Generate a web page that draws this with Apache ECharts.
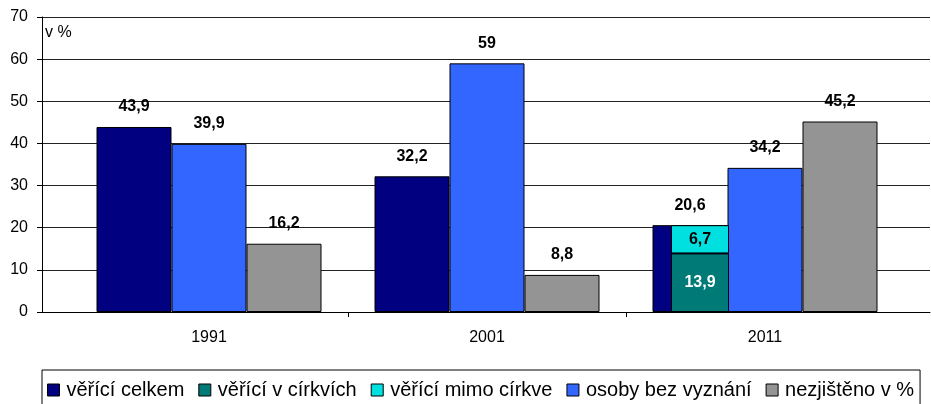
<!DOCTYPE html>
<html>
<head>
<meta charset="utf-8">
<script src="https://cdn.jsdelivr.net/npm/echarts@6/dist/echarts.min.js"></script>
<style>
  html, body { margin: 0; padding: 0; background: #fff; }
  #chart { width: 931px; height: 404px; }
</style>
</head>
<body>
<div id="chart"></div>
<script>
var categories = ['1991', '2001', '2011']
var vericiCelkem = [43.9, 32.2, 20.6]
var vericiVCirkvich = [null, null, 13.9]
var vericiMimoCirkve = [null, null, 6.7]
var bezVyznani = [39.9, 59, 34.2]
var nezjisteno = [16.2, 8.8, 45.2]
var yMin = 0
var yMax = 70
var yStep = 10
var tickPositions = [1, 2]

var font = 'Liberation Sans, Arial, sans-serif'

function fmt(p) {
  return String(p.value).replace('.', ',')
}

function topLabel() {
  return {
    show: true,
    position: 'top',
    distance: 12,
    formatter: fmt,
    color: '#000',
    fontFamily: font,
    fontWeight: 'bold',
    fontSize: 16
  }
}

var chart = echarts.init(document.getElementById('chart'))

chart.setOption({
  animation: false,
  grid: [
    // frame: y axis, grid lines, x axis line
    { left: 42, right: 1, top: 17, bottom: 92 },
    // main bars
    { left: 70, right: 27, top: 17, bottom: 92 },
    // stacked bar of 2011, shifted left
    { left: 5, right: 92, top: 17, bottom: 92 }
  ],
  legend: {
    left: 42,
    top: 370,
    width: 885,
    padding: [10, 6, 20, 5],
    itemGap: 14,
    itemWidth: 12,
    itemHeight: 12,
    borderColor: '#000',
    borderWidth: 1,
    borderRadius: 0,
    icon: 'rect',
    itemStyle: { borderColor: '#000', borderWidth: 1 },
    textStyle: {
      fontFamily: font,
      fontSize: 20,
      color: '#000',
      padding: [0, 0, 0, 2]
    },
    data: ['věřící celkem', 'věřící v církvích', 'věřící mimo církve', 'osoby bez vyznání', 'nezjištěno v %']
  },
  xAxis: [
    {
      gridIndex: 0,
      type: 'category',
      data: categories,
      axisLine: { lineStyle: { color: '#000', width: 1 } },
      axisTick: { show: false },
      axisLabel: { show: false }
    },
    {
      gridIndex: 1,
      type: 'category',
      data: categories,
      axisLine: { show: false },
      axisTick: { show: false },
      axisLabel: {
        margin: 18,
        color: '#000',
        fontFamily: font,
        fontSize: 16
      }
    },
    {
      gridIndex: 1,
      type: 'value',
      position: 'bottom',
      min: 0,
      max: 3,
      interval: 1,
      axisLine: { show: false },
      axisTick: { show: true, length: 5, customValues: tickPositions, lineStyle: { color: '#000' } },
      axisLabel: { show: false },
      splitLine: { show: false }
    },
    {
      gridIndex: 2,
      type: 'category',
      data: categories,
      show: false
    }
  ],
  yAxis: [
    {
      gridIndex: 0,
      type: 'value',
      min: yMin,
      max: yMax,
      interval: yStep,
      name: 'v %',
      nameLocation: 'end',
      nameGap: -16,
      nameTextStyle: {
        align: 'left',
        verticalAlign: 'middle',
        padding: [0, 0, 0, 3],
        color: '#000',
        fontFamily: font,
        fontSize: 16
      },
      axisLine: { show: true, lineStyle: { color: '#000', width: 1 } },
      axisTick: { show: true, length: 5, lineStyle: { color: '#000' } },
      axisLabel: {
        margin: 14,
        color: '#000',
        fontFamily: font,
        fontSize: 16
      },
      splitLine: { show: true, lineStyle: { color: '#222', width: 1 } }
    },
    { gridIndex: 1, type: 'value', min: yMin, max: yMax, interval: yStep, show: false },
    { gridIndex: 2, type: 'value', min: yMin, max: yMax, interval: yStep, show: false }
  ],
  series: [
    {
      name: 'věřící celkem',
      type: 'bar',
      xAxisIndex: 1,
      yAxisIndex: 1,
      barWidth: 75,
      barGap: '0%',
      itemStyle: { color: '#000080', borderColor: '#000', borderWidth: 1 },
      label: topLabel(),
      data: vericiCelkem
    },
    {
      name: 'osoby bez vyznání',
      type: 'bar',
      xAxisIndex: 1,
      yAxisIndex: 1,
      barWidth: 75,
      barGap: '0%',
      itemStyle: { color: '#3366ff', borderColor: '#000', borderWidth: 1 },
      label: topLabel(),
      data: bezVyznani
    },
    {
      name: 'nezjištěno v %',
      type: 'bar',
      xAxisIndex: 1,
      yAxisIndex: 1,
      barWidth: 75,
      barGap: '0%',
      itemStyle: { color: '#949494', borderColor: '#000', borderWidth: 1 },
      label: topLabel(),
      data: nezjisteno
    },
    {
      name: 'věřící v církvích',
      type: 'bar',
      xAxisIndex: 3,
      yAxisIndex: 2,
      stack: 'verici',
      barWidth: 58,
      z: 3,
      itemStyle: { color: '#007a76', borderColor: '#000', borderWidth: 1 },
      label: {
        show: true,
        position: 'inside',
        formatter: fmt,
        color: '#fff',
        fontFamily: font,
        fontWeight: 'bold',
        fontSize: 16
      },
      data: vericiVCirkvich
    },
    {
      name: 'věřící mimo církve',
      type: 'bar',
      xAxisIndex: 3,
      yAxisIndex: 2,
      stack: 'verici',
      barWidth: 58,
      z: 3,
      itemStyle: { color: '#00e0e0', borderColor: '#000', borderWidth: 1 },
      label: {
        show: true,
        position: 'inside',
        formatter: fmt,
        color: '#000',
        fontFamily: font,
        fontWeight: 'bold',
        fontSize: 16
      },
      data: vericiMimoCirkve
    }
  ]
})
</script>
</body>
</html>
